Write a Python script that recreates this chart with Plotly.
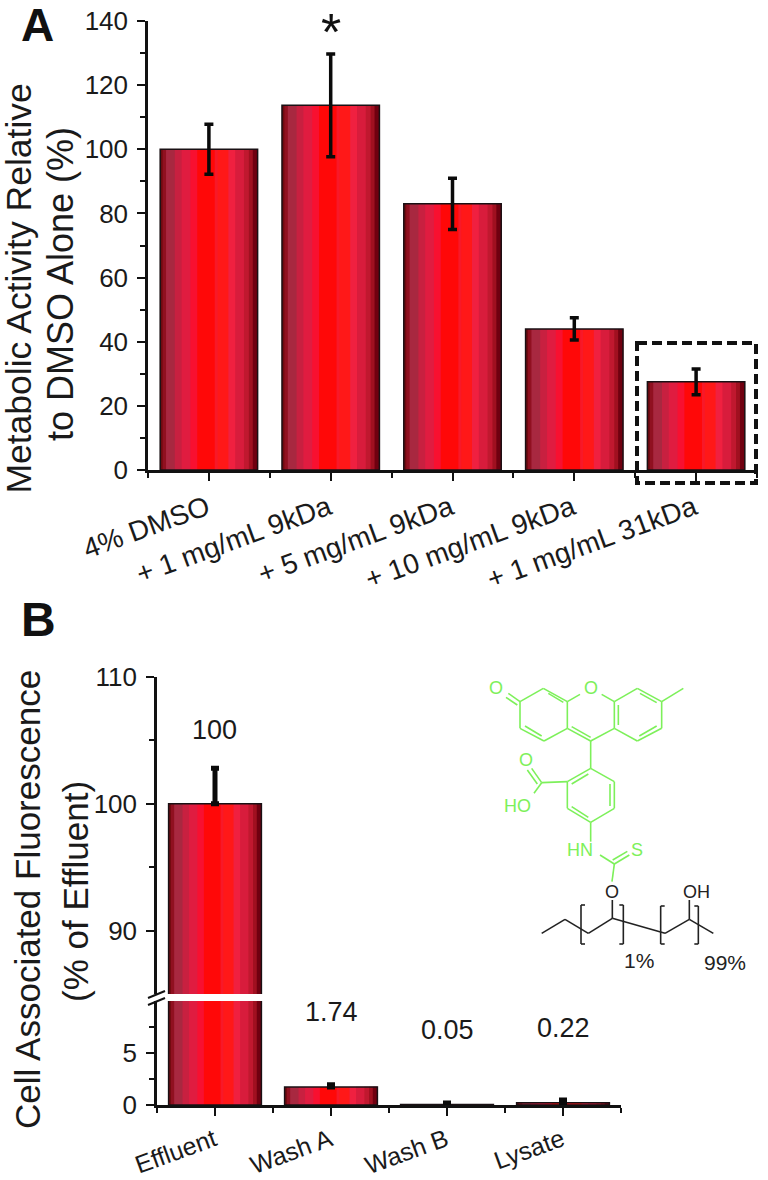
import plotly.graph_objects as go

W, H = 768, 1180
FONT = "Liberation Sans, Arial, sans-serif"

# ---- data ----
cats_a = ["4% DMSO", "+ 1 mg/mL 9kDa", "+ 5 mg/mL 9kDa", "+ 10 mg/mL 9kDa", "+ 1 mg/mL 31kDa"]
vals_a = [100, 113.7, 83, 44, 27.5]
errs_a = [7.8, 16, 8, 3.5, 4]
cats_b = ["Effluent", "Wash A", "Wash B", "Lysate"]
vals_b = [100, 1.74, 0.05, 0.22]
errs_b = [2.8, 0.2, 0.15, 0.25]
labels_b = ["100", "1.74", "0.05", "0.22"]

stripe_pos = [0, .025, .06, .15, .22, .31, .38, .56, .59, .70, .77, .86, .91, .95]
stripe_col = ["#700a10", "#901020", "#a82840", "#c82040", "#e01c40", "#f81030", "#ff0808",
              "#f81828", "#ff1818", "#f02040", "#d81c3c", "#c0182f", "#a01020", "#700010"]
BW = 0.8

def xp(v): return v / W
def yp(v): return 1 - v / H

fig = go.Figure()

def add_bars(x, y, xa, ya, err, ew, ec):
    for p, c in zip(stripe_pos, stripe_col):
        fig.add_trace(go.Bar(x=x, y=y, xaxis=xa, yaxis=ya, width=BW * (1 - p), offset=-BW / 2 + BW * p,
                             marker=dict(color=c, line=dict(width=0)), showlegend=False, hoverinfo="skip"))
    fig.add_trace(go.Bar(x=x, y=y, xaxis=xa, yaxis=ya, width=BW, offset=-BW / 2,
                         marker=dict(color="rgba(0,0,0,0)", line=dict(color="#1a1014", width=1.5)),
                         showlegend=False, hoverinfo="skip"))
    fig.add_trace(go.Scatter(x=x, y=y, xaxis=xa, yaxis=ya, mode="markers", marker=dict(size=1, opacity=0),
                             error_y=err | dict(color="#0a0a0a", thickness=ew, width=ec),
                             showlegend=False, hoverinfo="skip"))

pos_a = list(range(1, len(cats_a) + 1))
pos_b = list(range(1, len(cats_b) + 1))
add_bars(pos_a, vals_a, "x", "y", dict(type="data", array=errs_a), 3.5, 4.5)
add_bars(pos_b, vals_b, "x2", "y2", dict(type="data", array=errs_b, arrayminus=[0] * 4), 5, 4)
add_bars(pos_b, vals_b, "x3", "y3", dict(type="data", array=errs_b, arrayminus=[0] * 4), 5, 4)

AX = dict(showgrid=False, zeroline=False, showline=True, linecolor="#111", linewidth=2.5, ticks="outside",
          tickcolor="#111", tickwidth=2.2, ticklen=8, automargin=False,
          tickfont=dict(family=FONT, size=26, color="#1a1a1a"))
MIN = dict(ticks="outside", ticklen=5, tickwidth=2, tickcolor="#111", showgrid=False)

fig.update_layout(
    width=W, height=H, margin=dict(l=0, r=0, t=0, b=0), paper_bgcolor="white", plot_bgcolor="white",
    barmode="overlay", autosize=False, showlegend=False,
    xaxis=dict(AX, domain=[xp(148), xp(757)], range=[0.5, 5.5], anchor="y", tickvals=pos_a, ticktext=cats_a,
               tickangle=-20, tickfont=dict(family=FONT, size=28, color="#1a1a1a"), ticklabelshift=-2,
               minor=dict(MIN, tickvals=[0.5, 1.5, 2.5, 3.5, 4.5, 5.5])),
    yaxis=dict(AX, domain=[yp(470), yp(21)], range=[0, 140], anchor="x", ticklabelstandoff=4,
               tickvals=[0, 20, 40, 60, 80, 100, 120, 140],
               minor=dict(MIN, tickvals=[10, 30, 50, 70, 90, 110, 130])),
    xaxis2=dict(AX, domain=[xp(157), xp(621)], range=[0.5, 4.5], anchor="y2", visible=False),
    yaxis2=dict(AX, domain=[yp(994), yp(677)], range=[85, 110], anchor="x2", ticklabelstandoff=4, tickvals=[90, 100, 110],
                minor=dict(MIN, tickvals=[95, 105])),
    xaxis3=dict(AX, domain=[xp(157), xp(621)], range=[0.5, 4.5], anchor="y3", tickvals=pos_b, ticktext=cats_b,
                tickangle=-20, tickfont=dict(family=FONT, size=25, color="#1a1a1a"), ticklabelshift=-1,
                minor=dict(MIN, tickvals=[0.5, 1.5, 2.5, 3.5, 4.5])),
    yaxis3=dict(AX, domain=[yp(1105), yp(1001)], range=[0, 10], anchor="x3", ticklabelstandoff=4, tickvals=[0, 5],
                minor=dict(MIN, tickvals=[2.5, 7.5])),
)

shapes = []
anns = []

def seg(x0, y0, x1, y1, color="#111", w=1.4, dash=None):
    shapes.append(dict(type="line", xref="paper", yref="paper", x0=xp(x0), y0=yp(y0), x1=xp(x1), y1=yp(y1),
                       line=dict(color=color, width=w, dash=dash)))

def txt(x, y, s, size, color="#1a1a1a", angle=0, bold=False):
    if bold:
        s = "<b>" + s + "</b>"
    anns.append(dict(x=xp(x), y=yp(y), xref="paper", yref="paper", text=s, showarrow=False, textangle=angle,
                     xanchor="center", yanchor="middle", font=dict(family=FONT, size=size, color=color)))

# panel letters and axis titles
txt(37, 25, "A", 46, "#111", bold=True)
txt(38, 619, "B", 48, "#111", bold=True)
txt(18.6, 289, "Metabolic Activity Relative", 35.5, angle=-90)
txt(60, 284, "to DMSO Alone (%)", 36, angle=-90)
txt(27, 900, "Cell Associated Fluorescence", 35, angle=-90)
txt(75, 892, "(% of Effluent)", 35, angle=-90)
txt(331, 32, "*", 52, "#111")
for px, py, s in zip([214, 331, 447, 563], [730, 1012, 1030, 1028], labels_b):
    txt(px, py, s, 27)

# dashed box around the last bar
shapes.append(dict(type="rect", xref="paper", yref="paper", x0=xp(637), x1=xp(756), y0=yp(343), y1=yp(483),
                   line=dict(color="#111", width=4, dash="10px,5px")))
# axis break marks
seg(148, 998, 165, 991, "#111", 2)
seg(148, 1005, 165, 998, "#111", 2)

# chemical structure (drawn in zoom-crop units)
GR = "#7df05a"
BK = "#222"
def z(a, b): return 480 + a / 3, 660 + b / 3
def bond(a, b, c, d, color=GR, w=1.6):
    x0, y0 = z(a, b); x1, y1 = z(c, d)
    seg(x0, y0, x1, y1, color, w)

green_bonds = [
    (120,125,190,85),(190,85,262,125),(262,125,262,205),(262,205,192,243),(192,243,120,205),(120,205,120,125),
    (85,100,120,125),(78,112,112,135),
    (205,100,250,127),(135,198,185,228),
    (262,125,300,103),(365,103,403,125),(403,125,403,205),(403,205,332,243),(332,243,262,205),(275,200,332,232),
    (403,125,472,85),(472,85,545,125),(545,125,545,205),(545,205,472,243),(472,243,403,205),
    (415,135,415,195),(480,100,530,128),(530,198,478,228),(545,125,610,85),
    (332,243,332,325),
    (332,325,403,365),(403,365,403,445),(403,445,332,487),(332,487,262,445),(262,445,262,365),(262,365,332,325),
    (275,372,325,342),(390,372,390,438),(325,472,275,440),
    (262,365,185,368),(185,368,162,400),(185,368,155,325),(172,372,142,330),
    (332,487,332,545),(360,585,403,612),(403,612,448,585),(398,600,442,574),(403,612,396,665),
]
for b in green_bonds:
    bond(*b)
black_bonds = [
    (397,720,397,775),(185,820,255,778),(255,778,325,820),(325,820,397,775),(397,775,555,820),
    (555,820,628,778),(628,778,700,820),(628,720,628,778),
    (303,735,303,852),(303,735,315,735),(303,852,315,852),
    (430,735,430,852),(430,735,418,735),(430,852,418,852),
    (542,738,542,852),(542,738,554,738),(542,852,554,852),
    (655,738,655,852),(655,738,643,738),(655,852,643,852),
]
for b in black_bonds:
    bond(*b, color=BK)

for a, b, s, c, sz in [(48,85,"O",GR,18),(332,85,"O",GR,18),(138,300,"O",GR,18),(112,437,"HO",GR,18),
                       (300,570,"HN",GR,18),(472,570,"S",GR,18),(397,697,"O",BK,18),(648,697,"OH",BK,18),
                       (477,900,"1%",BK,21),(735,908,"99%",BK,21)]:
    x0, y0 = z(a, b)
    txt(x0, y0, s, sz, c)

fig.update_layout(shapes=shapes, annotations=anns)
fig.write_html("out.html", post_script="document.body.style.margin='0';", config=dict(displayModeBar=False))
